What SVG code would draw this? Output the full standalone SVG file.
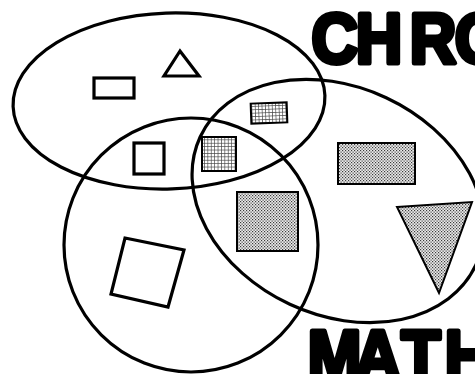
<svg xmlns="http://www.w3.org/2000/svg" width="475" height="374" viewBox="0 0 475 374">
<defs>
<pattern id="grid" width="3.4" height="3.4" patternUnits="userSpaceOnUse">
<rect width="3.4" height="3.4" fill="#fff"/>
<path d="M0 0.4H3.4M0.4 0V3.4" stroke="#444" stroke-width="0.7"/>
</pattern>
<pattern id="dots" width="3" height="3" patternUnits="userSpaceOnUse">
<rect width="3" height="3" fill="#ececec"/>
<rect x="0" y="0" width="1.2" height="1.2" fill="#3a3a3a"/>
<rect x="1.5" y="1.5" width="1.2" height="1.2" fill="#3a3a3a"/>
</pattern>
<style>
.set{fill:none;stroke:#000;stroke-width:3.2}
.open{fill:#fff;stroke:#000;stroke-width:3.2;stroke-linejoin:miter}
.grid{fill:url(#grid);stroke:#000;stroke-width:2}
.dots{fill:url(#dots);stroke:#000;stroke-width:2}
.label{font-family:"Liberation Sans",Arial,sans-serif;font-weight:bold;font-size:70px;fill:#000;stroke:#000;stroke-width:5;stroke-linejoin:round}
</style>
</defs>
<rect width="475" height="374" fill="#fff"/>
<g id="labels">
<text class="label" transform="scale(0.92 1)" x="338.7 386.7 445.4 494.3" y="62.5">CHRO</text>
<text class="label" transform="scale(0.92 1)" x="334.6 385.3 436.1 483.5" y="380.5">MATH</text>
</g>
<g id="sets">
<ellipse id="set-top" class="set" cx="169" cy="101" rx="156" ry="88" transform="rotate(-2 169 101)"/>
<circle id="set-left" class="set" cx="191" cy="245" r="127"/>
<ellipse id="set-right" class="set" cx="338" cy="201" rx="152" ry="114" transform="rotate(25 338 201)"/>
</g>
<g id="shape-rect-open"><rect class="open" x="94" y="78" width="40" height="20"/></g>
<g id="shape-triangle-open"><polygon class="open" points="180,51 164,76 199,76"/></g>
<g id="shape-square-open"><rect class="open" x="134" y="143" width="30" height="31"/></g>
<g id="shape-square-rotated"><polygon class="open" points="125,238 184,250 168,307 111,294"/></g>
<g id="shape-rect-grid"><rect class="grid" x="251" y="103" width="36" height="20" transform="rotate(-2 269 113)"/></g>
<g id="shape-square-grid"><rect class="grid" x="202" y="137" width="34" height="34"/></g>
<g id="shape-rect-dots"><rect class="dots" x="338" y="143" width="77" height="41"/></g>
<g id="shape-square-dots"><rect class="dots" x="237" y="192" width="61" height="59"/></g>
<g id="shape-triangle-dots"><polygon class="dots" points="397,207 472,202 439,293"/></g>
</svg>
